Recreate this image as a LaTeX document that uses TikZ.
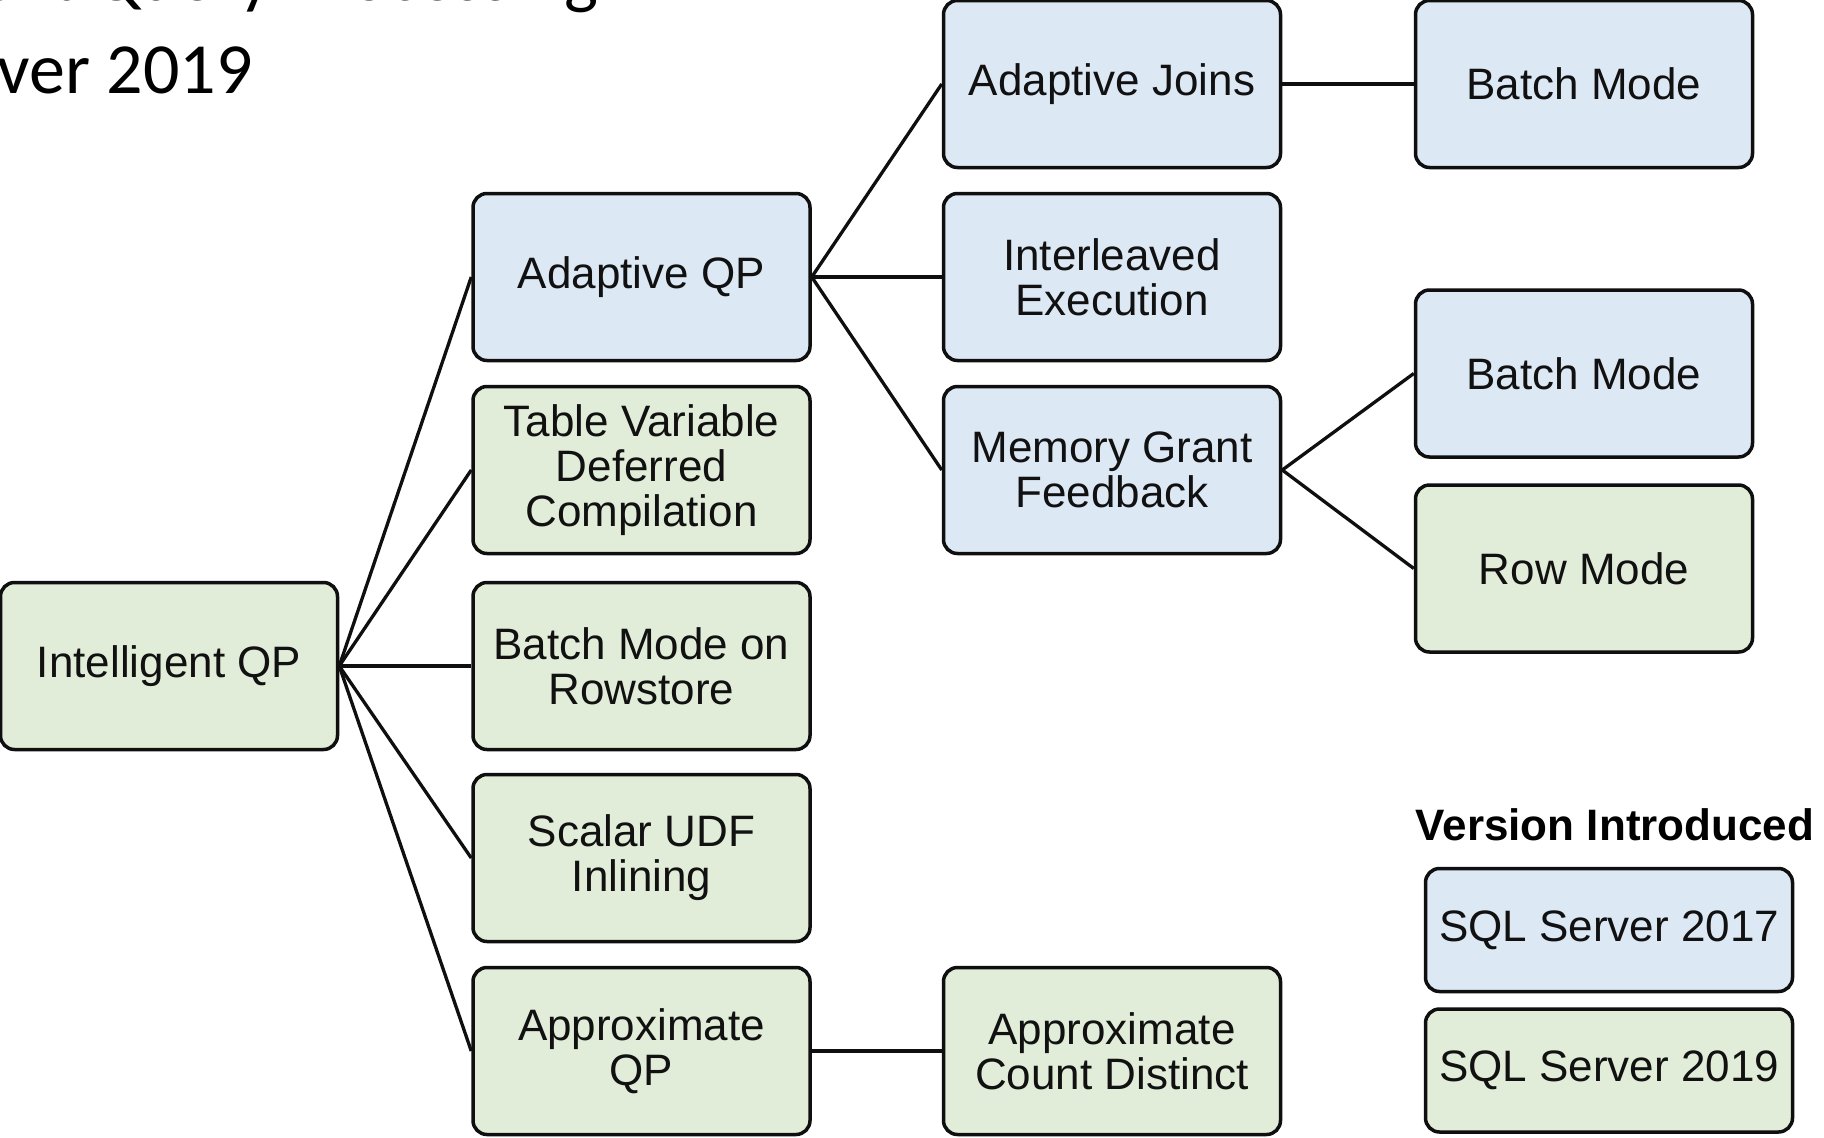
\documentclass[tikz,border=0pt]{standalone}
\usepackage{fontspec}
\setmainfont{Liberation Sans}
\newfontfamily\titlefont{Carlito}
\definecolor{blueF}{HTML}{DDE8F5}
\definecolor{greenF}{HTML}{E1EDD8}
\definecolor{edgeC}{HTML}{0F0F0F}
\definecolor{txtC}{HTML}{111111}
\tikzset{
  qpbox/.style={draw=edgeC, line width=3.5pt, rounded corners=14pt,
    minimum width=337pt, minimum height=167pt, inner sep=0pt,
    align=center, text=txtC, font=\fontsize{44}{45}\selectfont},
  v17/.style={qpbox, fill=blueF},
  v19/.style={qpbox, fill=greenF},
  legbox/.style={qpbox, minimum width=367pt, minimum height=123pt},
  conn/.style={draw=edgeC, line width=3.3pt}
}
\begin{document}
\begin{tikzpicture}[x=1pt,y=-1pt]
\useasboundingbox (0,0) rectangle (1824,1138);
\clip (0,0) rectangle (1824,1138);
\fill[white] (0,0) rectangle (1824,1138);

% title (cropped, as in the reference)
\node[anchor=base east, inner sep=0pt, font=\titlefont\fontsize{72}{86}\selectfont] (t1) at (599,0) {Intelligent Query Processing};
\node[anchor=base east, inner sep=0pt, font=\titlefont\fontsize{72}{86}\selectfont] (t2) at (253,93) {in SQL Server 2019};

% column 1
\node[v19] (iqp) at (169,666) {Intelligent QP};

% column 2
\node[v17] (aqp) at (641.5,277) {Adaptive QP};
\node[v19] (tvdc) at (641.5,470) {Table Variable\\Deferred\\Compilation};
\node[v19] (bmr) at (641.5,666) {Batch Mode on\\Rowstore};
\node[v19] (sudf) at (641.5,858) {Scalar UDF\\Inlining};
\node[v19] (apx) at (641.5,1051) {Approximate\\QP};

% column 3
\node[v17] (aj) at (1112,84) {Adaptive Joins};
\node[v17] (ie) at (1112,277) {Interleaved\\Execution};
\node[v17] (mgf) at (1112,470) {Memory Grant\\Feedback};
\node[v19] (acd) at (1112,1051) {Approximate\\Count Distinct};

% column 4
\node[v17] (bm1) at (1584,84) {Batch Mode};
\node[v17] (bm2) at (1584,373.5) {Batch Mode};
\node[v19] (rm) at (1584,568.5) {Row Mode};

% legend
\node[anchor=base, inner sep=0pt, text=black, font=\bfseries\fontsize{44}{45}\selectfont] (leg) at (1615,840) {Version Introduced};
\node[legbox, fill=blueF] (l17) at (1609,930) {SQL Server 2017};
\node[legbox, fill=greenF] (l19) at (1609,1070.5) {SQL Server 2019};

% connectors
\foreach \c in {aqp,tvdc,bmr,sudf,apx}
  \draw[conn] (iqp.east) -- (\c.west);
\foreach \c in {aj,ie,mgf}
  \draw[conn] (aqp.east) -- (\c.west);
\draw[conn] (aj.east) -- (bm1.west);
\draw[conn] (mgf.east) -- (bm2.west);
\draw[conn] (mgf.east) -- (rm.west);
\draw[conn] (apx.east) -- (acd.west);
\end{tikzpicture}
\end{document}
